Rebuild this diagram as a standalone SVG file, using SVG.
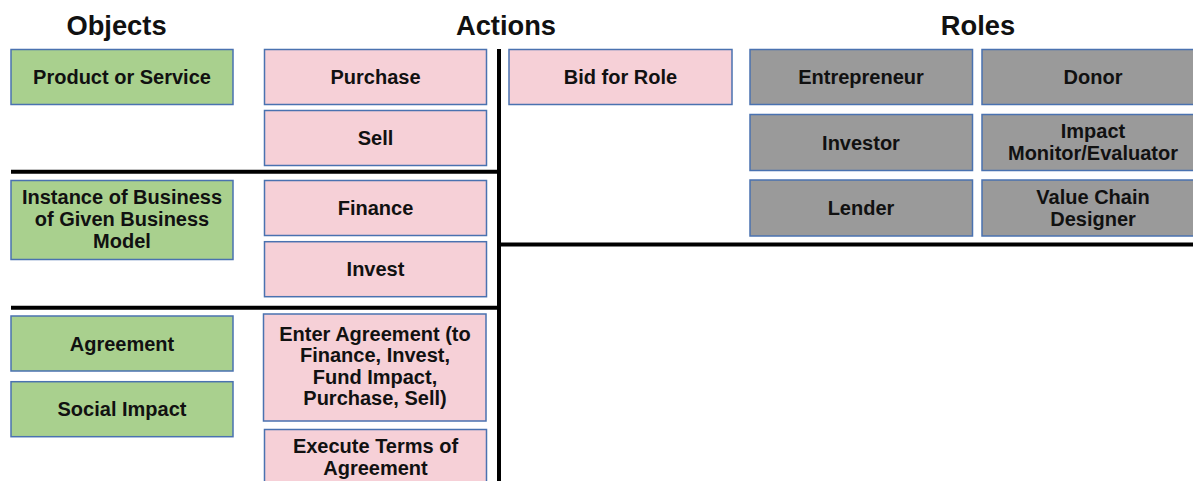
<svg xmlns="http://www.w3.org/2000/svg" width="1193" height="481" viewBox="0 0 1193 481">
  <style>
    text { font-family: "Liberation Sans", Arial, sans-serif; font-weight: bold; fill: #111; text-anchor: middle; }
    .title { font-size: 27.3px; }
    .lbl { font-size: 20px; }
    rect { stroke: #4a72b0; stroke-width: 1.5; }
    .obj rect { fill: #a9d08e; }
    .act rect { fill: #f6d0d7; }
    .role rect { fill: #9a9a9a; }
    .div { stroke: #000; stroke-width: 4; fill: none; }
  </style>

  <!-- column headings -->
  <text class="title" x="116.5" y="34.5">Objects</text>
  <text class="title" x="506" y="34.5">Actions</text>
  <text class="title" x="978" y="34.5">Roles</text>

  <!-- divider lines -->
  <g id="dividers">
    <line class="div" x1="499" y1="49" x2="499" y2="481"/>
    <line class="div" x1="11" y1="171.7" x2="499" y2="171.7"/>
    <line class="div" x1="11" y1="307.7" x2="499" y2="307.7"/>
    <line class="div" x1="499" y1="244.5" x2="1193" y2="244.5"/>
  </g>

  <!-- objects -->
  <g id="obj-product" class="obj">
    <rect x="11" y="49.5" width="222" height="55"/>
    <text class="lbl" x="122" y="84">Product or Service</text>
  </g>
  <g id="obj-instance" class="obj">
    <rect x="11" y="180.5" width="222" height="79"/>
    <text class="lbl" x="122" y="204">Instance of Business</text>
    <text class="lbl" x="122" y="226">of Given Business</text>
    <text class="lbl" x="122" y="248">Model</text>
  </g>
  <g id="obj-agreement" class="obj">
    <rect x="11" y="316" width="222" height="55"/>
    <text class="lbl" x="122" y="350.5">Agreement</text>
  </g>
  <g id="obj-social" class="obj">
    <rect x="11" y="381.7" width="222" height="55"/>
    <text class="lbl" x="122" y="416">Social Impact</text>
  </g>

  <!-- actions -->
  <g id="act-purchase" class="act">
    <rect x="264.5" y="49.5" width="222" height="55"/>
    <text class="lbl" x="375.5" y="84">Purchase</text>
  </g>
  <g id="act-sell" class="act">
    <rect x="264.5" y="110.5" width="222" height="55"/>
    <text class="lbl" x="375.5" y="145">Sell</text>
  </g>
  <g id="act-finance" class="act">
    <rect x="264.5" y="180.5" width="222" height="55"/>
    <text class="lbl" x="375.5" y="215">Finance</text>
  </g>
  <g id="act-invest" class="act">
    <rect x="264.5" y="241.7" width="222" height="55"/>
    <text class="lbl" x="375.5" y="276">Invest</text>
  </g>
  <g id="act-enter" class="act">
    <rect x="263.5" y="314" width="222.5" height="107"/>
    <text class="lbl" x="375" y="340.5">Enter Agreement (to</text>
    <text class="lbl" x="375" y="362">Finance, Invest,</text>
    <text class="lbl" x="375" y="383.5">Fund Impact,</text>
    <text class="lbl" x="375" y="405">Purchase, Sell)</text>
  </g>
  <g id="act-execute" class="act">
    <rect x="264.5" y="429.5" width="222" height="60"/>
    <text class="lbl" x="375.5" y="453">Execute Terms of</text>
    <text class="lbl" x="375.5" y="474.5">Agreement</text>
  </g>
  <g id="act-bid" class="act">
    <rect x="509" y="49.5" width="223" height="55"/>
    <text class="lbl" x="620.5" y="84">Bid for Role</text>
  </g>

  <!-- roles -->
  <g id="role-entrepreneur" class="role">
    <rect x="750" y="49.5" width="222.5" height="55"/>
    <text class="lbl" x="861" y="84">Entrepreneur</text>
  </g>
  <g id="role-donor" class="role">
    <rect x="982" y="49.5" width="222.5" height="55"/>
    <text class="lbl" x="1093" y="84">Donor</text>
  </g>
  <g id="role-investor" class="role">
    <rect x="750" y="114.5" width="222.5" height="56"/>
    <text class="lbl" x="861" y="149.5">Investor</text>
  </g>
  <g id="role-monitor" class="role">
    <rect x="982" y="114.5" width="222.5" height="56"/>
    <text class="lbl" x="1093" y="138">Impact</text>
    <text class="lbl" x="1093" y="160">Monitor/Evaluator</text>
  </g>
  <g id="role-lender" class="role">
    <rect x="750" y="180" width="222.5" height="56"/>
    <text class="lbl" x="861" y="215">Lender</text>
  </g>
  <g id="role-designer" class="role">
    <rect x="982" y="180" width="222.5" height="56"/>
    <text class="lbl" x="1093" y="203.5">Value Chain</text>
    <text class="lbl" x="1093" y="225.5">Designer</text>
  </g>
</svg>
